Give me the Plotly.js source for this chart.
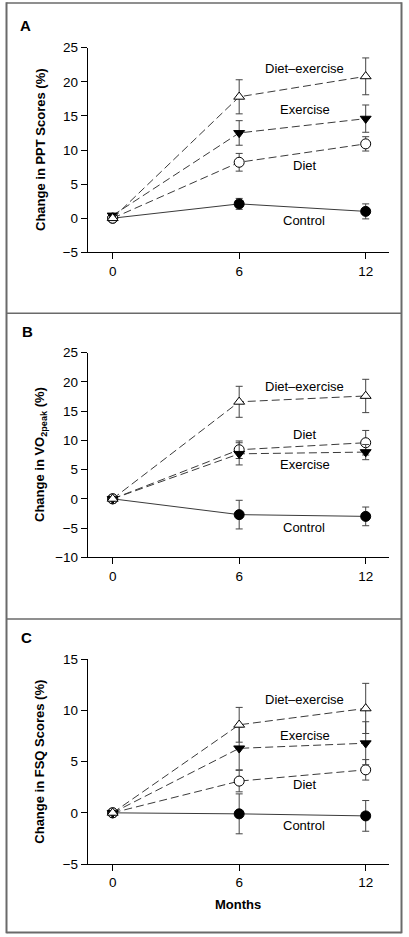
<!DOCTYPE html>
<html><head><meta charset="utf-8">
<script src="https://cdn.plot.ly/plotly-3.0.1.min.js"></script>
<style>html,body{margin:0;padding:0;background:#fff;}#chart{width:409px;height:937px;}</style>
</head><body><div id="chart"></div>
<script>
// ---- data ----
const months = [0, 6, 12];
const monthTicks = ['0', '6', '12'];
const groups = ['Control', 'Diet', 'Exercise', 'Diet\u2013exercise'];

// Panel A: Change in PPT scores (%)
const pptControl = [0, 2.1, 1.0];
const pptControlErr = [null, 0.8, 1.1];
const pptDiet = [0, 8.2, 10.9];
const pptDietErr = [null, 1.3, 1.05];
const pptExercise = [0.4, 12.5, 14.6];
const pptExerciseErr = [null, 1.8, 2.0];
const pptDietEx = [0, 17.8, 20.8];
const pptDietExErr = [null, 2.5, 2.7];

// Panel B: Change in VO2peak (%)
const voControl = [0, -2.7, -3.0];
const voControlErr = [null, 2.45, 1.6];
const voDiet = [0, 8.4, 9.6];
const voDietErr = [null, 1.5, 2.1];
const voExercise = [0, 7.7, 8.0];
const voExerciseErr = [null, 1.9, 1.3];
const voDietEx = [0, 16.6, 17.6];
const voDietExErr = [null, 2.65, 2.85];

// Panel C: Change in FSQ scores (%)
const fsqControl = [0, -0.1, -0.3];
const fsqControlErr = [null, 1.95, 1.5];
const fsqDiet = [0, 3.1, 4.2];
const fsqDietErr = [null, 1.05, 1.0];
const fsqExercise = [0, 6.3, 6.8];
const fsqExerciseErr = [null, 2.1, 2.1];
const fsqDietEx = [0, 8.6, 10.2];
const fsqDietExErr = [null, 1.7, 2.45];

const yTicksA = [-5, 0, 5, 10, 15, 20, 25];
const yTicksB = [-10, -5, 0, 5, 10, 15, 20, 25];
const yTicksC = [-5, 0, 5, 10, 15];

// ---- styling ----
const W = 409, H = 937;
const px = v => v / W;
const py = v => 1 - v / H;
const FONT = 'Liberation Sans, Arial, sans-serif';
const LINE = '#3a3a3a';
const ERR = '#444';

const styles = [
  {dash: 'solid', marker: {symbol: 'circle', size: 10, color: '#000', line: {color: '#000', width: 1}}},
  {dash: '8px,4px', marker: {symbol: 'circle', size: 10, color: '#fff', line: {color: '#000', width: 1}}},
  {dash: '8px,4px', marker: {symbol: 'triangle-down', size: 9.5, color: '#000', line: {color: '#000', width: 1}}},
  {dash: '8px,4px', marker: {symbol: 'triangle-up', size: 9.5, color: '#fff', line: {color: '#000', width: 1}}}
];

function panel(series, errs, xa, ya) {
  return series.map((ys, i) => ({
    x: months, y: ys, xaxis: xa, yaxis: ya, type: 'scatter', mode: 'lines+markers',
    name: groups[i], showlegend: false, cliponaxis: false,
    line: {color: LINE, width: 1, dash: styles[i].dash},
    marker: styles[i].marker,
    error_y: {type: 'data', array: errs[i], visible: true, color: ERR, thickness: 1, width: 3.5}
  }));
}

const data = [].concat(
  panel([pptControl, pptDiet, pptExercise, pptDietEx], [pptControlErr, pptDietErr, pptExerciseErr, pptDietExErr], 'x', 'y'),
  panel([voControl, voDiet, voExercise, voDietEx], [voControlErr, voDietErr, voExerciseErr, voDietExErr], 'x2', 'y2'),
  panel([fsqControl, fsqDiet, fsqExercise, fsqDietEx], [fsqControlErr, fsqDietErr, fsqExerciseErr, fsqDietExErr], 'x3', 'y3')
);

function xaxis(anchor) {
  return {
    domain: [px(87.8), px(389.3)], range: [-1.18, 13.12], anchor: anchor,
    tickmode: 'array', tickvals: months, ticktext: monthTicks,
    ticks: 'outside', ticklen: 6, tickwidth: 1, tickcolor: '#000',
    showline: true, linecolor: '#000', linewidth: 1, showgrid: false, zeroline: false,
    tickfont: {family: FONT, size: 13.5, color: '#000'}, fixedrange: true
  };
}
function yaxis(anchor, top, bottom, range, ticks) {
  return {
    domain: [py(bottom), py(top)], range: range, anchor: anchor,
    tickmode: 'array', tickvals: ticks, ticktext: ticks.map(t => t < 0 ? '\u2212' + Math.abs(t) : String(t)),
    ticks: 'outside', ticklen: 6, tickwidth: 1, tickcolor: '#000',
    showline: true, linecolor: '#000', linewidth: 1, showgrid: false, zeroline: false,
    tickfont: {family: FONT, size: 13.5, color: '#000'}, fixedrange: true
  };
}

const lblFont = {family: FONT, size: 13, color: '#000'};
function lbl(text, x, y, xr, yr) {
  return {text: text, x: x, y: y, xref: xr, yref: yr, showarrow: false, font: lblFont, xanchor: 'center', yanchor: 'middle'};
}
function pap(text, x, y, opts) {
  return Object.assign({text: text, x: px(x), y: py(y), xref: 'paper', yref: 'paper', showarrow: false,
    xanchor: 'center', yanchor: 'middle', font: {family: FONT, size: 13, color: '#000'}}, opts || {});
}
const titleFont = {family: FONT, size: 13, color: '#000'};
const letterFont = {family: FONT, size: 15, color: '#000'};

const annotations = [
  // panel A labels
  lbl(groups[3], 9.12, 21.9, 'x', 'y'),
  lbl(groups[2], 9.12, 15.9, 'x', 'y'),
  lbl(groups[1], 9.12, 7.8, 'x', 'y'),
  lbl(groups[0], 9.08, -0.4, 'x', 'y'),
  // panel B labels
  lbl(groups[3], 9.12, 19.2, 'x2', 'y2'),
  lbl(groups[1], 9.12, 10.95, 'x2', 'y2'),
  lbl(groups[2], 9.12, 5.8, 'x2', 'y2'),
  lbl(groups[0], 9.08, -4.86, 'x2', 'y2'),
  // panel C labels
  lbl(groups[3], 9.12, 11.1, 'x3', 'y3'),
  lbl(groups[2], 9.12, 7.6, 'x3', 'y3'),
  lbl(groups[1], 9.12, 2.8, 'x3', 'y3'),
  lbl(groups[0], 9.08, -1.2, 'x3', 'y3'),
  // panel letters
  pap('<b>A</b>', 25, 26, {font: letterFont}),
  pap('<b>B</b>', 27, 331.5, {font: letterFont}),
  pap('<b>C</b>', 26, 637.5, {font: letterFont}),
  // y titles
  pap('<b>Change in PPT Scores (%)</b>', 40, 150, {textangle: -90, font: titleFont}),
  pap('<b>Change in VO<sub>2peak</sub> (%)</b>', 40, 455, {textangle: -90, font: titleFont}),
  pap('<b>Change in FSQ Scores (%)</b>', 40, 761.7, {textangle: -90, font: titleFont}),
  // x title
  pap('<b>Months</b>', 238.3, 904.3, {font: titleFont})
];

const BC = '#6a6a6a';
function ln(x0, y0, x1, y1, w) {
  return {type: 'line', xref: 'paper', yref: 'paper', x0: px(x0), y0: py(y0), x1: px(x1), y1: py(y1),
    line: {color: BC, width: w}, layer: 'above'};
}
const shapes = [
  ln(6.5, 3, 401.5, 3, 1.5),
  ln(6.5, 313.3, 401.5, 313.3, 1.5),
  ln(6.5, 619, 401.5, 619, 1.5),
  ln(6.5, 932.5, 401.5, 932.5, 2),
  ln(6.5, 2.3, 6.5, 933.3, 2),
  ln(401.5, 2.3, 401.5, 933.3, 2)
];

const layout = {
  width: W, height: H, margin: {l: 0, r: 0, t: 0, b: 0},
  paper_bgcolor: '#fff', plot_bgcolor: '#fff', showlegend: false,
  xaxis: xaxis('y'), yaxis: yaxis('x', 47.7, 252.3, [-5, 25], yTicksA),
  xaxis2: xaxis('y2'), yaxis2: yaxis('x2', 352.7, 557.3, [-10, 25], yTicksB),
  xaxis3: xaxis('y3'), yaxis3: yaxis('x3', 659.3, 864, [-5, 15], yTicksC),
  annotations: annotations, shapes: shapes
};

Plotly.newPlot('chart', data, layout, {displayModeBar: false, staticPlot: true});
</script></body></html>
